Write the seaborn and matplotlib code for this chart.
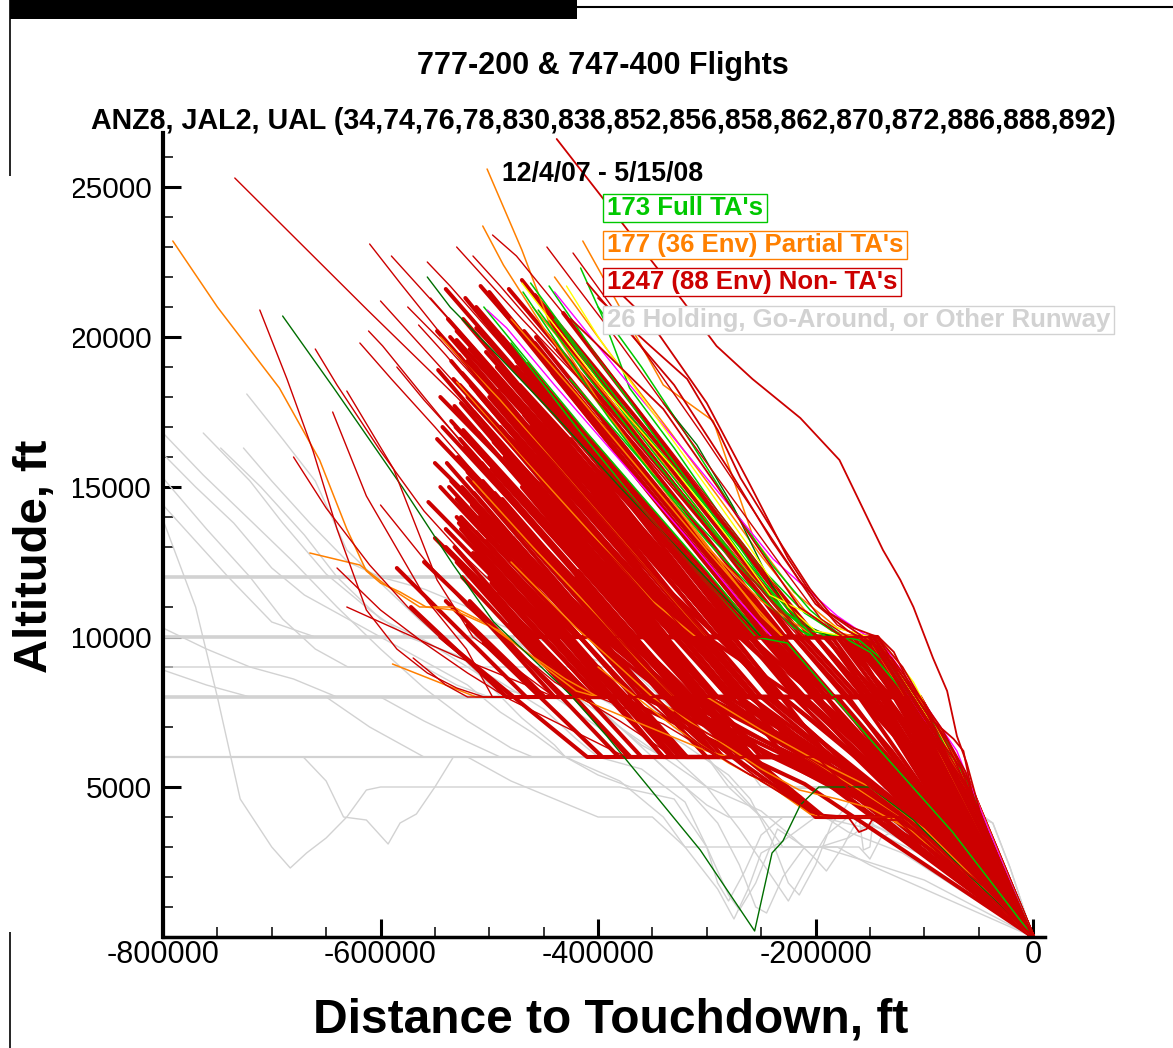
import pandas as pd
import matplotlib
matplotlib.use("Agg")
import matplotlib.pyplot as plt
import seaborn as sns
from matplotlib.patches import Rectangle
from matplotlib.lines import Line2D
from matplotlib.ticker import MultipleLocator, FixedLocator, FuncFormatter

# ---------------------------------------------------------------------------
# Arrival tracks: distance to touchdown (kft, negative = before threshold)
# and altitude (kft).  Every track ends at touchdown.
# ---------------------------------------------------------------------------
TOUCHDOWN = (0.0, 0.0)

# Non-TA flights that level off at one altitude:
# (start dist, start alt, level-on dist, level alt, level-off dist, final fix dist, final fix alt)
red_lvl10 = [
    (-538, 20.6, -280, 10, -145, -100, 7.0), (-530, 19.9, -282, 10, -150, -88, 6.2),
    (-535, 19.2, -321, 10, -147, -110, 7.4), (-527, 18.4, -312, 10, -152, -85, 5.6),
    (-532, 17.7, -344, 10, -146, -98, 6.6), (-524, 16.9, -351, 10, -149, -92, 5.9),
    (-529, 16.0, -371, 10, -154, -83, 5.2), (-520, 15.3, -394, 10, -148, -104, 7.0),
    (-516, 14.4, -406, 10, -151, -87, 5.5), (-512, 13.5, -427, 10, -146, -95, 6.3),
    (-505, 12.7, -436, 10, -150, -80, 4.9), (-498, 11.8, -453, 10, -147, -97, 6.0),
    (-490, 11.0, -464, 10, -153, -89, 5.4), (-522, 21.3, -265, 10, -144, -115, 7.9),
    (-508, 21.7, -229, 10, -145, -93, 6.8), (-495, 21.2, -246, 10, -147, -86, 5.8),
    (-482, 21.6, -212, 10, -143, -106, 7.5), (-470, 21.9, -211, 10, -144, -100, 7.3),
    (-458, 21.4, -199, 10, -146, -92, 6.6), (-545, 18.0, -329, 10, -150, -87, 5.7),
    (-550, 15.8, -389, 10, -155, -82, 5.0), (-503, 19.5, -271, 10, -148, -94, 6.4),
    (-488, 18.3, -290, 10, -145, -90, 6.1), (-476, 17.2, -309, 10, -149, -96, 6.7),
    (-466, 15.9, -326, 10, -152, -88, 5.6), (-480, 14.1, -378, 10, -147, -85, 5.3),
    (-470, 12.9, -396, 10, -150, -93, 6.2), (-445, 20.5, -222, 10, -144, -97, 7.0),
    (-437, 19.6, -228, 10, -146, -91, 6.4), (-540, 13.0, -457, 10, -151, -86, 5.4),
    (-512, 20.3, -254, 10, -146, -90, 6.2), (-496, 16.5, -337, 10, -148, -95, 6.5),
    (-460, 18.6, -269, 10, -145, -88, 6.0), (-450, 17.0, -291, 10, -150, -92, 6.3),
    (-525, 18.8, -310, 10, -260, -150, 6.4), (-515, 16.4, -360, 10, -300, -170, 6.8),
    (-505, 20.6, -255, 10, -220, -130, 6.2), (-495, 14.8, -380, 10, -240, -140, 6.0),
    (-485, 20.8, -232, 10, -200, -120, 6.4), (-475, 16.3, -330, 10, -180, -118, 7.0),
    (-465, 19.1, -262, 10, -165, -112, 7.2), (-455, 13.6, -372, 10, -230, -140, 6.2),
    (-520, 12.2, -465, 10, -190, -105, 5.8), (-540, 21.6, -262, 10, -175, -110, 6.8),
    (-530, 14.6, -418, 10, -270, -150, 6.0), (-510, 18.1, -318, 10, -210, -125, 6.6),
    (-548, 20.2, -300, 10, -160, -105, 6.9), (-543, 17.0, -365, 10, -200, -120, 6.5),
    (-537, 15.0, -410, 10, -148, -96, 6.6), (-526, 13.6, -438, 10, -156, -90, 5.9),
    (-518, 19.6, -283, 10, -150, -98, 6.9), (-514, 17.5, -330, 10, -185, -110, 6.3),
    (-507, 15.8, -368, 10, -152, -94, 6.4), (-501, 13.9, -408, 10, -170, -100, 5.9),
    (-493, 19.0, -280, 10, -147, -85, 5.9), (-486, 16.0, -342, 10, -160, -102, 6.4),
    (-478, 13.3, -398, 10, -145, -89, 6.1), (-468, 20.2, -236, 10, -148, -95, 6.6),
    (-461, 17.8, -282, 10, -190, -115, 6.4), (-452, 15.2, -336, 10, -150, -90, 6.2),
    (-443, 18.0, -265, 10, -146, -100, 7.1), (-432, 20.8, -205, 10, -145, -94, 7.0),
    (-425, 16.6, -280, 10, -155, -97, 6.5), (-415, 19.0, -220, 10, -150, -92, 6.6),
    (-405, 14.8, -300, 10, -170, -105, 6.3), (-395, 17.2, -235, 10, -160, -100, 6.6),
]
red_lvl8 = [
    (-536, 20.0, -250, 8, -106, -60, 5.0), (-528, 19.4, -269, 8, -110, -75, 4.6),
    (-533, 18.6, -268, 8, -104, -62, 5.2), (-526, 17.8, -293, 8, -112, -80, 3.9),
    (-531, 17.0, -300, 8, -108, -85, 5.6), (-523, 16.3, -321, 8, -115, -66, 3.6),
    (-519, 15.6, -329, 8, -105, -63, 5.1), (-514, 14.8, -352, 8, -118, -90, 4.2),
    (-509, 14.0, -355, 8, -110, -59, 4.6), (-503, 13.2, -376, 8, -113, -90, 5.3),
    (-497, 12.3, -389, 8, -107, -70, 3.4), (-491, 11.5, -399, 8, -120, -72, 4.2),
    (-483, 10.7, -415, 8, -230, -110, 4.4), (-476, 10.1, -419, 8, -260, -120, 4.3),
    (-548, 16.6, -322, 8, -109, -78, 5.0), (-556, 14.5, -380, 8, -200, -100, 4.5),
    (-560, 12.5, -431, 8, -280, -130, 4.6), (-572, 11.0, -484, 8, -125, -64, 4.1),
    (-510, 20.8, -212, 8, -105, -68, 5.4), (-500, 21.5, -200, 8, -108, -82, 5.4),
    (-488, 20.0, -215, 8, -112, -56, 4.4), (-475, 19.0, -219, 8, -104, -65, 5.5),
    (-465, 17.6, -236, 8, -110, -74, 3.8), (-455, 16.1, -257, 8, -117, -60, 4.0),
    (-462, 14.3, -304, 8, -113, -88, 5.0), (-452, 12.9, -329, 8, -106, -66, 4.7),
    (-470, 15.2, -294, 8, -119, -77, 3.5), (-490, 17.0, -276, 8, -109, -62, 4.8),
    (-442, 18.8, -202, 8, -107, -70, 5.3), (-585, 12.3, -466, 8, -123, -84, 4.6),
    (-540, 11.2, -449, 8, -245, -115, 4.2), (-520, 10.4, -453, 8, -215, -105, 4.3),
    (-545, 15.0, -365, 8, -330, -160, 5.0), (-528, 13.8, -380, 8, -300, -170, 5.6),
    (-510, 16.8, -300, 8, -270, -140, 4.8), (-500, 12.0, -400, 8, -360, -200, 5.4),
    (-492, 18.2, -255, 8, -240, -130, 4.4), (-520, 19.2, -255, 8, -190, -120, 4.7),
    (-535, 17.2, -305, 8, -285, -150, 4.6), (-480, 15.8, -295, 8, -250, -135, 4.5),
    (-470, 13.6, -335, 8, -320, -180, 5.2), (-515, 11.0, -440, 8, -380, -210, 5.1),
    (-458, 19.8, -195, 8, -170, -100, 4.6), (-500, 18.0, -262, 8, -220, -110, 4.1),
    (-550, 13.3, -405, 8, -340, -175, 4.8), (-485, 14.2, -335, 8, -260, -140, 4.3),
    (-547, 18.9, -290, 8, -140, -85, 4.8), (-539, 15.8, -350, 8, -230, -120, 4.8),
    (-532, 13.0, -410, 8, -310, -160, 5.2), (-524, 20.6, -230, 8, -125, -80, 4.6),
    (-517, 18.4, -275, 8, -160, -100, 4.9), (-506, 15.2, -330, 8, -200, -115, 4.7),
    (-494, 13.6, -360, 8, -290, -150, 4.9), (-487, 11.9, -395, 8, -340, -185, 5.3),
    (-479, 18.6, -235, 8, -118, -78, 4.9), (-472, 16.9, -265, 8, -210, -120, 4.5),
    (-463, 11.5, -380, 8, -300, -160, 5.0), (-457, 20.0, -190, 8, -125, -90, 5.3),
    (-448, 15.0, -280, 8, -180, -105, 4.4), (-438, 13.8, -305, 8, -240, -135, 4.6),
    (-430, 17.5, -215, 8, -150, -95, 4.8), (-418, 12.2, -318, 8, -270, -150, 4.7),
    (-408, 15.4, -240, 8, -200, -115, 4.5), (-398, 11.0, -320, 8, -290, -160, 5.0),
]
red_lvl6 = [
    (-482, 10.4, -372, 6, -205, -112, 3.8), (-470, 11.6, -333, 6, -199, -100, 3.5),
    (-518, 11.2, -381, 6, -210, -116, 3.9), (-440, 12.5, -285, 6, -202, -96, 3.3),
    (-505, 9.8, -396, 6, -220, -120, 3.8), (-455, 14.5, -257, 6, -200, -92, 3.5),
    (-498, 15.6, -258, 6, -206, -106, 3.7), (-530, 14.0, -325, 6, -213, -110, 3.6),
    (-462, 17.0, -212, 6, -201, -98, 3.6), (-545, 10.0, -410, 6, -225, -118, 3.7),
    (-490, 13.0, -319, 6, -208, -104, 3.4), (-475, 19.2, -188, 6, -188, -110, 3.7),
    (-500, 11.5, -360, 6, -230, -120, 3.9), (-512, 12.8, -340, 6, -215, -115, 3.6),
    (-485, 14.0, -290, 6, -205, -100, 3.4), (-525, 12.0, -370, 6, -240, -125, 4.0),
    (-470, 15.0, -262, 6, -210, -108, 3.5), (-450, 16.2, -228, 6, -200, -95, 3.3),
    (-535, 15.2, -300, 6, -222, -118, 3.8), (-527, 16.6, -268, 6, -218, -115, 3.8),
    (-508, 13.7, -318, 6, -225, -120, 3.9), (-480, 12.0, -340, 6, -212, -110, 3.6),
    (-460, 13.4, -290, 6, -204, -102, 3.5), (-445, 10.8, -330, 6, -215, -112, 3.7),
    (-420, 12.0, -275, 6, -200, -95, 3.4), (-400, 9.0, -320, 6, -230, -125, 3.9),
]
red_lvl4 = [
    (-420, 11.0, -194, 4, -124, -72, 2.6), (-390, 9.6, -197, 4, -128, -76, 2.5),
    (-360, 8.2, -198, 4, -122, -70, 2.4), (-470, 12.2, -197, 4, -130, -80, 2.7),
    (-440, 12.5, -200, 4, -150, -85, 2.8), (-410, 10.5, -192, 4, -126, -74, 2.5),
]

# Non-TA flights with two level segments
red_step_tracks = [
    [(-520, 18.0), (-320, 10.0), (-235, 10.0), (-185, 8.0), (-110, 8.0), (-58, 5.0)],
    [(-505, 16.0), (-355, 10.0), (-220, 10.0), (-170, 8.0), (-106, 8.0), (-60, 5.2)],
    [(-530, 20.2), (-275, 10.0), (-210, 10.0), (-160, 8.0), (-112, 8.0), (-55, 4.6)],
    [(-490, 13.4), (-405, 10.0), (-200, 10.0), (-150, 8.0), (-104, 8.0), (-62, 5.4)],
    [(-478, 19.6), (-260, 10.0), (-192, 10.0), (-140, 8.0), (-115, 8.0), (-57, 4.8)],
    [(-512, 21.0), (-250, 10.0), (-180, 10.0), (-130, 8.0), (-108, 8.0), (-59, 5.0)],
    [(-500, 14.6), (-385, 10.0), (-245, 10.0), (-195, 8.0), (-118, 8.0), (-54, 4.5)],
    [(-468, 17.4), (-300, 10.0), (-170, 10.0), (-125, 8.0), (-110, 8.0), (-61, 5.3)],
    [(-525, 15.0), (-400, 10.0), (-260, 10.0), (-160, 6.0), (-140, 5.4), (-100, 3.9)],
    [(-515, 12.8), (-395, 8.0), (-300, 8.0), (-250, 6.0), (-200, 6.0), (-105, 3.6)],
    [(-540, 13.6), (-390, 8.0), (-320, 8.0), (-270, 6.0), (-203, 6.0), (-112, 3.7)],
    [(-496, 15.2), (-365, 10.0), (-215, 10.0), (-165, 8.0), (-113, 8.0), (-58, 4.9)],
    [(-508, 17.6), (-330, 10.0), (-290, 10.0), (-235, 8.0), (-150, 8.0), (-80, 4.0)],
    [(-486, 16.8), (-290, 10.0), (-250, 10.0), (-200, 7.9), (-160, 6.4), (-90, 3.6)],
    [(-472, 18.4), (-260, 10.0), (-240, 10.0), (-180, 7.2), (-130, 5.4), (-70, 2.8)],
    [(-526, 14.0), (-420, 10.0), (-330, 10.0), (-280, 8.0), (-180, 8.0), (-100, 4.6)],
    [(-520, 15.5), (-340, 8.0), (-300, 8.0), (-245, 6.0), (-205, 6.0), (-110, 3.6)],
    [(-505, 17.0), (-300, 8.0), (-270, 8.0), (-220, 6.2), (-150, 4.6), (-80, 2.6)],
    [(-495, 11.8), (-400, 8.0), (-380, 8.0), (-320, 6.0), (-210, 6.0), (-115, 3.7)],
    [(-530, 12.5), (-420, 8.0), (-350, 8.0), (-290, 6.0), (-208, 6.0), (-108, 3.5)],
    [(-488, 14.6), (-330, 8.0), (-280, 7.6), (-230, 6.4), (-160, 5.0), (-95, 3.5)],
]

# Non-TA flights on the edges of the corridor
red_edge_tracks = [
    [(-438, 26.6), (-322, 21.2), (-291, 19.7), (-258, 18.6), (-214, 17.3), (-178, 15.9),
     (-138, 12.9), (-122, 11.9), (-110, 11.0), (-92, 9.3), (-79, 8.2), (-70, 6.7),
     (-61, 5.8), (-49, 4.2), (-30, 2.4)],
    [(-400, 21.3), (-355, 19.8), (-318, 18.6), (-290, 16.9), (-269, 15.3), (-230, 13.0),
     (-205, 11.6), (-187, 10.8), (-165, 10.3), (-143, 10.0), (-120, 9.0), (-104, 8.0),
     (-92, 7.2), (-73, 6.6), (-64, 6.2), (-55, 4.6), (-49, 4.0), (-30, 2.4)],
    [(-410, 21.8), (-330, 18.4), (-280, 15.6), (-240, 13.2), (-200, 11.1), (-170, 10.2),
     (-140, 9.6), (-118, 8.6), (-98, 7.5), (-78, 6.5), (-60, 5.2), (-45, 3.6)],
    [(-425, 20.6), (-340, 17.6), (-290, 15.0), (-255, 13.1), (-215, 11.0), (-175, 10.0),
     (-150, 9.2), (-118, 7.8), (-90, 6.8), (-66, 5.6), (-50, 4.0)],
    [(-395, 22.0), (-352, 20.5), (-300, 17.8), (-262, 15.2), (-225, 12.6), (-196, 11.0),
     (-160, 10.1), (-130, 9.3), (-112, 8.4), (-85, 7.0), (-62, 5.5), (-42, 3.2)],
    [(-430, 11.0), (-330, 7.4), (-260, 6.0), (-199, 6.0), (-160, 4.6), (-122, 3.9),
     (-92, 3.2), (-73, 2.5), (-46, 1.7), (-24, 0.9)],
    [(-330, 7.5), (-250, 5.2), (-200, 4.1), (-170, 4.0), (-160, 3.5), (-153, 3.6),
     (-148, 3.9), (-125, 3.9), (-100, 3.1), (-60, 2.0)],
    [(-360, 8.0), (-306, 6.4), (-260, 5.4), (-214, 4.7), (-196, 4.0), (-122, 4.0),
     (-95, 3.1), (-60, 2.0)],
    [(-142, 10.0), (-128, 9.5), (-112, 8.3), (-100, 7.8), (-88, 7.0), (-76, 6.2),
     (-66, 5.4), (-55, 4.4), (-40, 3.2), (-20, 1.6)],
    [(-180, 6.0), (-150, 5.0), (-125, 4.4), (-100, 3.7), (-80, 3.0), (-60, 2.3),
     (-35, 1.3)],
]

# Non-TA flights first seen far out
red_outer_tracks = [
    [(-734, 25.3), (-612, 20.9), (-530, 18.0), (-450, 15.0), (-380, 12.4), (-322, 10.0),
     (-150, 10.0), (-95, 7.0)],
    [(-711, 20.9), (-686, 18.6), (-662, 16.2), (-640, 13.6), (-613, 10.9), (-585, 9.6),
     (-557, 8.8), (-530, 8.3), (-505, 8.0), (-120, 8.0), (-60, 5.0)],
    [(-660, 19.6), (-640, 18.4), (-600, 16.2), (-560, 14.2), (-520, 12.6), (-480, 11.2),
     (-440, 10.0), (-151, 10.0), (-90, 6.5)],
    [(-610, 23.1), (-582, 21.8), (-540, 19.9), (-500, 18.2), (-440, 15.8), (-380, 13.3),
     (-300, 10.0), (-148, 10.0), (-92, 6.9)],
    [(-590, 22.7), (-555, 21.3), (-510, 19.5), (-460, 17.4), (-400, 14.8), (-330, 12.0),
     (-275, 10.0), (-146, 10.0), (-96, 7.2)],
    [(-557, 22.5), (-536, 21.7), (-490, 19.8), (-430, 17.3), (-370, 14.7), (-300, 11.8),
     (-230, 8.9), (-200, 8.0), (-110, 8.0), (-58, 4.9)],
    [(-611, 20.2), (-598, 19.7), (-560, 18.0), (-510, 15.8), (-450, 13.3), (-390, 10.8),
     (-350, 9.4), (-310, 8.0), (-115, 8.0), (-57, 4.8)],
    [(-619, 19.8), (-590, 18.6), (-550, 17.0), (-500, 14.9), (-440, 12.4), (-380, 9.9),
     (-330, 8.0), (-116, 8.0), (-55, 4.6)],
    [(-554, 21.3), (-520, 19.9), (-470, 17.8), (-410, 15.3), (-350, 12.8), (-290, 10.2),
     (-285, 10.0), (-150, 10.0), (-90, 6.6)],
    [(-497, 23.4), (-475, 22.7), (-430, 20.7), (-380, 18.4), (-320, 15.6), (-260, 12.8),
     (-215, 10.6), (-200, 10.0), (-145, 10.0), (-93, 7.0)],
    [(-447, 23.0), (-420, 21.7), (-380, 19.8), (-330, 17.3), (-280, 14.8), (-230, 12.3),
     (-195, 10.6), (-170, 10.0), (-144, 10.0), (-95, 7.3)],
    [(-423, 22.8), (-395, 21.4), (-355, 19.4), (-305, 16.8), (-255, 14.1), (-215, 11.9),
     (-180, 10.4), (-160, 10.0), (-143, 10.0), (-97, 7.4)],
    [(-515, 22.7), (-490, 21.7), (-440, 19.6), (-380, 17.0), (-320, 14.5), (-260, 12.0),
     (-210, 10.0), (-147, 10.0), (-91, 6.8)],
    [(-631, 18.2), (-588, 15.6), (-548, 11.9), (-515, 10.0), (-470, 8.8), (-440, 8.0),
     (-118, 8.0), (-60, 4.8)],
    [(-644, 17.5), (-613, 14.7), (-557, 11.2), (-521, 9.6), (-497, 8.0), (-120, 8.0),
     (-62, 4.9)],
    [(-631, 11.0), (-527, 9.3), (-466, 8.4), (-440, 8.0), (-119, 8.0), (-58, 4.6)],
    [(-570, 9.3), (-540, 8.4), (-520, 8.0), (-400, 8.0), (-340, 7.1), (-290, 6.0),
     (-215, 6.0), (-110, 3.6)],
    [(-600, 14.4), (-560, 12.6), (-520, 11.0), (-480, 9.7), (-440, 8.5), (-380, 7.2),
     (-330, 6.0), (-210, 6.0), (-115, 3.8)],
    [(-640, 12.3), (-600, 10.9), (-560, 9.8), (-520, 8.8), (-480, 7.9), (-430, 7.0),
     (-380, 6.1), (-370, 6.0), (-215, 6.0), (-118, 3.8)],
    [(-530, 23.0), (-505, 22.0), (-470, 20.6), (-420, 18.7), (-360, 16.2), (-300, 13.6),
     (-250, 11.4), (-215, 10.0), (-146, 10.0), (-94, 7.1)],
    [(-575, 21.0), (-545, 19.9), (-505, 18.3), (-450, 16.0), (-390, 13.6), (-330, 11.0),
     (-305, 10.0), (-150, 10.0), (-89, 6.5)],
    [(-680, 16.0), (-650, 14.3), (-610, 12.4), (-575, 11.0), (-540, 9.8), (-500, 8.6),
     (-480, 8.0), (-118, 8.0), (-60, 4.9)],
    [(-600, 21.2), (-570, 20.0), (-535, 18.6), (-495, 17.0), (-440, 14.7), (-380, 12.2),
     (-330, 10.0), (-152, 10.0), (-92, 6.6)],
    [(-585, 19.0), (-560, 17.9), (-520, 16.3), (-470, 14.2), (-420, 12.1), (-370, 10.0),
     (-149, 10.0), (-86, 6.0)],
    [(-565, 20.4), (-540, 19.4), (-500, 17.7), (-455, 15.8), (-400, 13.5), (-345, 11.2),
     (-315, 10.0), (-147, 10.0), (-90, 6.3)],
]

# Partial tailored arrivals
orange_tracks = [
    [(-791, 23.2), (-750, 21.0), (-693, 18.3), (-656, 15.9), (-631, 13.6), (-613, 12.2),
     (-600, 11.8), (-582, 11.5), (-558, 11.0), (-533, 10.9), (-490, 10.2), (-460, 9.3),
     (-420, 8.2), (-400, 8.0), (-110, 8.0), (-60, 5.0)],
    [(-502, 25.6), (-470, 22.9), (-444, 20.4), (-400, 17.9), (-350, 15.4), (-300, 13.0),
     (-250, 11.2), (-200, 10.0), (-146, 10.0), (-94, 7.0)],
    [(-414, 23.2), (-340, 18.4), (-294, 17.2), (-276, 15.3), (-257, 13.3), (-220, 11.5),
     (-180, 10.3), (-150, 10.0), (-105, 8.0), (-60, 5.3)],
    [(-665, 12.8), (-619, 12.4), (-594, 11.7), (-564, 11.0), (-533, 11.0), (-500, 10.4),
     (-470, 9.6), (-430, 8.6), (-400, 8.0), (-115, 8.0), (-58, 4.7)],
    [(-506, 23.7), (-487, 22.4), (-450, 20.3), (-400, 17.8), (-340, 15.0), (-290, 12.6),
     (-250, 10.7), (-230, 10.0), (-150, 10.0), (-92, 7.0)],
    [(-589, 9.1), (-512, 8.0), (-420, 8.0), (-360, 7.1), (-300, 6.2), (-280, 6.0),
     (-210, 6.0), (-160, 4.9), (-115, 3.8)],
    [(-530, 18.5), (-470, 16.0), (-410, 13.6), (-350, 11.2), (-310, 10.0), (-152, 10.0),
     (-88, 6.3)],
    [(-480, 20.6), (-420, 18.1), (-360, 15.5), (-300, 12.9), (-250, 10.8), (-230, 10.0),
     (-148, 10.0), (-95, 7.1)],
    [(-515, 15.2), (-460, 13.0), (-400, 10.7), (-360, 9.1), (-330, 8.0), (-112, 8.0),
     (-55, 4.6)],
    [(-460, 21.0), (-400, 18.4), (-340, 15.8), (-290, 13.4), (-240, 11.2), (-210, 10.0),
     (-145, 10.0), (-100, 7.6)],
    [(-400, 9.0), (-330, 7.0), (-280, 5.8), (-240, 5.0), (-205, 4.1), (-190, 4.0),
     (-130, 4.0), (-90, 2.9), (-50, 1.7)],
    [(-350, 8.0), (-300, 6.8), (-250, 5.6), (-215, 4.9), (-180, 4.6), (-150, 4.3),
     (-110, 3.5), (-70, 2.3)],
    [(-545, 20.0), (-490, 17.9), (-430, 15.4), (-370, 12.9), (-320, 10.8), (-300, 10.0),
     (-149, 10.0), (-91, 6.7)],
    [(-440, 22.0), (-390, 19.5), (-335, 16.9), (-290, 14.7), (-250, 12.7), (-210, 10.9),
     (-185, 10.2), (-150, 9.9), (-118, 8.6), (-80, 6.7), (-50, 4.3)],
    [(-480, 12.5), (-420, 10.3), (-380, 9.0), (-350, 8.0), (-300, 8.0), (-250, 6.9),
     (-200, 5.9), (-150, 5.0), (-100, 3.6)],
]

# Full tailored arrivals
green_tracks = [
    [(-469, 21.5), (-430, 19.4), (-390, 17.3), (-350, 15.4), (-300, 13.2), (-250, 11.3),
     (-220, 10.3), (-200, 10.0), (-150, 10.0), (-95, 7.0)],
    [(-462, 21.8), (-420, 19.7), (-371, 17.4), (-320, 15.2), (-270, 13.0), (-227, 10.8),
     (-190, 10.0), (-146, 10.0), (-90, 6.7)],
    [(-416, 22.3), (-395, 20.6), (-371, 18.3), (-330, 16.3), (-290, 14.2), (-250, 12.3),
     (-210, 10.8), (-180, 10.1), (-150, 9.5), (-120, 8.2), (-100, 7.6), (-70, 6.0)],
    [(-440, 20.6), (-400, 18.6), (-350, 16.2), (-300, 13.9), (-260, 12.0), (-226, 10.8),
     (-200, 10.0), (-147, 10.0), (-92, 6.9)],
    [(-426, 18.6), (-380, 16.7), (-330, 14.6), (-280, 12.7), (-227, 10.8), (-200, 10.0),
     (-145, 10.0), (-97, 7.2)],
    [(-480, 19.8), (-420, 17.0), (-360, 14.3), (-300, 11.8), (-255, 10.0), (-226, 9.8),
     (-150, 6.6), (-74, 3.5), (-40, 1.9)],
    [(-455, 20.9), (-410, 18.7), (-360, 16.4), (-310, 14.2), (-260, 12.0), (-220, 10.4),
     (-205, 10.0), (-146, 10.0), (-110, 8.0), (-60, 5.2)],
    [(-400, 21.0), (-360, 19.0), (-320, 16.8), (-280, 14.5), (-240, 12.4), (-205, 10.9),
     (-175, 10.0), (-145, 10.0), (-94, 7.1)],
    [(-505, 21.0), (-460, 19.0), (-410, 16.8), (-355, 14.5), (-300, 12.2), (-250, 10.0),
     (-150, 10.0), (-91, 6.8)],
    [(-445, 21.7), (-400, 19.3), (-350, 16.8), (-305, 14.6), (-265, 12.6), (-235, 11.3),
     (-205, 10.2), (-160, 9.9), (-130, 9.0), (-110, 8.0), (-62, 5.3)],
]
darkgreen_tracks = [
    [(-690, 20.7), (-643, 18.3), (-580, 15.0), (-533, 12.4), (-496, 10.5), (-426, 8.1),
     (-392, 6.7), (-306, 2.9), (-256, 0.2), (-240, 2.8), (-230, 3.2), (-214, 4.4),
     (-197, 5.0), (-150, 5.0), (-110, 3.9), (-60, 2.1)],
    [(-557, 22.0), (-536, 21.0), (-490, 19.3), (-440, 17.4), (-380, 15.0), (-320, 12.7),
     (-270, 10.8), (-250, 10.0), (-150, 10.0), (-92, 6.8)],
    [(-340, 17.8), (-309, 16.4), (-275, 14.3), (-240, 11.7), (-210, 10.4), (-185, 10.0),
     (-147, 10.0), (-100, 7.6)],
]
magenta_tracks = [
    [(-440, 21.5), (-380, 18.8), (-325, 16.4), (-239, 12.6), (-180, 10.7), (-135, 9.6),
     (-104, 8.0), (-70, 6.2), (-40, 3.5)],
    [(-502, 20.9), (-484, 20.3), (-440, 18.4), (-380, 15.9), (-320, 13.4), (-270, 11.2),
     (-240, 10.0), (-150, 10.0), (-92, 6.8)],
]
yellow_tracks = [
    [(-470, 21.8), (-400, 18.5), (-330, 15.6), (-280, 13.3), (-242, 11.4), (-180, 10.3),
     (-140, 9.9), (-110, 8.5), (-60, 5.0)],
    [(-429, 21.7), (-398, 19.9), (-350, 17.5), (-300, 15.0), (-255, 12.7), (-225, 11.0),
     (-200, 10.2), (-170, 10.0), (-145, 10.0), (-95, 7.2)],
]

# Holding, go-around and other-runway flights
gray_tracks = [
    [(-800, 12.0), (-462, 12.0), (-430, 11.0), (-400, 10.0), (-360, 8.6), (-320, 7.2),
     (-290, 6.0), (-200, 6.0), (-150, 5.0), (-100, 3.6), (-50, 1.8)],
    [(-800, 10.0), (-480, 10.0), (-440, 8.8), (-400, 7.6), (-360, 6.4), (-340, 6.0),
     (-240, 6.0), (-180, 5.0), (-143, 5.0), (-90, 4.6), (-60, 4.4), (-37, 3.8), (-21, 2.3)],
    [(-800, 9.0), (-360, 9.0), (-330, 7.9), (-300, 6.9), (-270, 6.0), (-250, 5.0),
     (-143, 5.0), (-110, 4.0), (-60, 2.1)],
    [(-800, 8.0), (-440, 8.0), (-400, 7.0), (-370, 6.0), (-300, 6.0), (-250, 4.0),
     (-122, 4.0), (-80, 2.8), (-40, 1.4)],
    [(-800, 16.8), (-763, 15.4), (-720, 13.9), (-680, 12.5), (-640, 11.0), (-600, 9.6),
     (-560, 8.3), (-520, 7.2), (-480, 6.3), (-460, 6.0), (-300, 6.0), (-280, 5.0),
     (-250, 4.0), (-230, 3.0), (-196, 3.0), (-160, 2.6), (-100, 1.9)],
    [(-763, 16.8), (-720, 15.2), (-690, 13.8), (-650, 12.1), (-610, 10.9), (-575, 10.0),
     (-530, 9.4), (-490, 8.5), (-450, 7.6), (-420, 6.6), (-400, 6.0), (-330, 6.0),
     (-300, 5.0), (-270, 3.6), (-240, 2.0), (-225, 1.2), (-210, 2.2), (-190, 3.4),
     (-170, 4.0), (-140, 3.6), (-100, 2.8)],
    [(-723, 18.1), (-690, 16.6), (-660, 15.2), (-631, 12.9), (-600, 11.8), (-565, 10.6),
     (-530, 9.5), (-500, 8.4), (-470, 7.3), (-440, 6.4), (-430, 6.0), (-350, 6.0),
     (-320, 5.0), (-290, 3.8), (-270, 2.4), (-255, 1.0), (-245, 0.8), (-230, 2.0),
     (-210, 3.0), (-160, 3.0), (-150, 2.6), (-140, 3.3), (-120, 3.7), (-80, 2.6)],
    [(-802, 14.1), (-770, 11.0), (-750, 8.0), (-729, 4.6), (-700, 3.0), (-683, 2.3),
     (-668, 2.8), (-650, 3.3), (-631, 4.0), (-613, 4.9), (-600, 5.0), (-380, 5.0),
     (-330, 4.6), (-300, 3.0), (-280, 1.4), (-270, 0.9), (-255, 1.8), (-235, 3.6),
     (-210, 3.0), (-180, 3.0), (-150, 2.4), (-100, 1.6)],
    [(-800, 6.0), (-671, 6.0), (-650, 5.2), (-634, 4.0), (-613, 3.9), (-593, 3.1),
     (-582, 3.8), (-567, 4.1), (-550, 5.0), (-533, 6.0), (-400, 6.0), (-360, 5.6),
     (-320, 4.5), (-300, 3.0), (-290, 1.8), (-280, 1.2), (-265, 2.2), (-250, 3.4),
     (-230, 4.0), (-160, 4.0), (-156, 2.9), (-150, 3.0), (-147, 3.9), (-120, 3.4),
     (-60, 1.6)],
    [(-800, 15.3), (-760, 13.6), (-720, 12.0), (-690, 10.6), (-660, 9.6), (-630, 9.0),
     (-560, 9.0), (-530, 8.4), (-500, 8.0), (-420, 8.0), (-380, 7.0), (-340, 6.0),
     (-300, 5.0), (-143, 5.0), (-100, 4.1), (-50, 2.0)],
    [(-800, 14.4), (-770, 13.2), (-740, 12.0), (-700, 10.5), (-660, 10.0), (-600, 10.0),
     (-560, 9.2), (-520, 8.4), (-490, 7.5), (-460, 6.8), (-430, 6.0), (-380, 5.2),
     (-340, 4.0), (-320, 3.0), (-196, 3.0), (-170, 3.3), (-150, 3.8), (-110, 3.1)],
    [(-747, 16.3), (-710, 15.0), (-670, 13.4), (-640, 12.0), (-600, 10.6), (-560, 9.9),
     (-520, 9.0), (-490, 8.3), (-460, 8.0), (-400, 8.0), (-360, 7.2), (-320, 6.4),
     (-280, 5.4), (-260, 4.6), (-240, 3.2), (-225, 1.8), (-215, 1.4), (-200, 2.4),
     (-185, 3.8), (-175, 4.2), (-160, 5.0), (-140, 4.8), (-90, 3.0)],
    [(-726, 16.3), (-700, 15.2), (-665, 13.8), (-630, 12.5), (-600, 12.0), (-560, 11.6),
     (-520, 11.0), (-490, 10.4), (-460, 10.0), (-400, 9.2), (-360, 8.0), (-330, 7.0),
     (-300, 6.0), (-260, 6.0), (-230, 5.0), (-200, 4.2), (-170, 3.5), (-120, 2.8),
     (-60, 1.4)],
    [(-800, 10.3), (-760, 9.6), (-720, 9.0), (-680, 8.6), (-640, 8.0), (-600, 8.0),
     (-560, 7.2), (-520, 6.5), (-490, 6.0), (-430, 6.0), (-400, 5.4), (-370, 5.0),
     (-300, 5.0), (-250, 4.2), (-220, 3.3), (-200, 2.6), (-190, 2.2), (-175, 3.0),
     (-160, 4.0), (-135, 4.0), (-100, 3.0), (-50, 1.5)],
    [(-800, 8.9), (-760, 8.4), (-720, 8.0), (-650, 8.0), (-610, 7.0), (-580, 6.4),
     (-560, 6.0), (-520, 6.0), (-480, 5.2), (-440, 4.6), (-400, 4.0), (-350, 4.0),
     (-320, 3.0), (-290, 1.6), (-275, 0.6), (-262, 1.6), (-250, 2.8), (-230, 3.2),
     (-200, 4.0), (-150, 4.0), (-123, 4.9), (-100, 4.6), (-70, 4.3), (-50, 4.0),
     (-37, 3.8), (-21, 2.3)],
    [(-800, 16.1), (-770, 15.0), (-735, 13.8), (-700, 12.3), (-670, 11.4), (-640, 10.8),
     (-610, 10.2), (-600, 10.0), (-480, 10.0), (-440, 9.0), (-410, 8.0), (-380, 7.0),
     (-350, 6.0), (-320, 5.0), (-300, 4.4), (-280, 4.0), (-196, 4.0), (-150, 3.6),
     (-100, 2.7)],
]
# Repeated holding legs: (from dist, to dist, altitude, line width)
gray_holds = [
    (-800, -462, 12.0, 2.6), (-800, -478, 10.0, 2.6), (-800, -430, 8.0, 2.6),
    (-800, -400, 6.0, 1.6), (-235, -143, 5.0, 2.2),
]

# Colours
C_RED, C_ORANGE, C_GREEN = "#cc0000", "#ff8000", "#00c800"
C_DKGREEN, C_GRAY, C_MAGENTA, C_YELLOW = "#006e00", "#d2d2d2", "#ff00ff", "#ffff00"

# Text
TITLE_1 = "777-200 & 747-400 Flights"
TITLE_2 = "ANZ8, JAL2, UAL (34,74,76,78,830,838,852,856,858,862,870,872,886,888,892)"
DATE_RANGE = "12/4/07 - 5/15/08"
LEGEND_ITEMS = [
    ("173 Full TA's", C_GREEN),
    ("177 (36 Env) Partial TA's", C_ORANGE),
    ("1247 (88 Env) Non- TA's", C_RED),
    ("26 Holding, Go-Around, or Other Runway", C_GRAY),
]


def level_track(x0, h0, x1, hl, x2, x3, h3):
    return [(x0, h0), (x1, hl), (x2, hl), (x3, h3)]


def to_frame(tracks, group, to_ground=True):
    rows = []
    for i, tr in enumerate(tracks):
        pts = list(tr) + ([TOUCHDOWN] if to_ground else [])
        for j, (d, a) in enumerate(pts):
            rows.append((f"{group}-{i}", j, d * 1000.0, a * 1000.0))
    return pd.DataFrame(rows, columns=["flight", "seq", "dist", "alt"])


sns.set_theme(style="ticks")
plt.rcParams["font.family"] = ["Liberation Sans", "DejaVu Sans"]
plt.rcParams["axes.unicode_minus"] = False

W, H = 1173, 1048
fig = plt.figure(figsize=(W / 100, H / 100), dpi=100)
fig.patch.set_facecolor("white")
ax = fig.add_axes([163 / W, 1 - 937 / H, 882 / W, 804 / H])
ax.set_facecolor("white")


def draw(tracks, group, color, lw, to_ground=True):
    df = to_frame(tracks, group, to_ground)
    sns.lineplot(data=df, x="dist", y="alt", units="flight", estimator=None,
                 sort=False, color=color, linewidth=lw, ax=ax, legend=False)


red_core = ([level_track(*t) for t in red_lvl10] + [level_track(*t) for t in red_lvl8]
            + [level_track(*t) for t in red_lvl6] + [level_track(*t) for t in red_lvl4])

draw(gray_tracks, "gray", C_GRAY, 1.0)
for k, (a, b, h, w) in enumerate(gray_holds):
    draw([[(a, h), (b, h)]], f"hold{k}", C_GRAY, w, to_ground=False)
draw(red_core, "red", C_RED, 2.9)
draw(red_step_tracks, "redstep", C_RED, 2.9)
draw(orange_tracks, "orange", C_ORANGE, 1.1)
draw(green_tracks, "green", C_GREEN, 1.1)
draw(darkgreen_tracks, "dkgreen", C_DKGREEN, 1.0)
draw(magenta_tracks, "magenta", C_MAGENTA, 1.0)
draw(yellow_tracks, "yellow", C_YELLOW, 1.0)
draw(red_edge_tracks, "rededge", C_RED, 1.3)
draw(red_outer_tracks, "redouter", C_RED, 1.0)

# Axes styling
ax.set_xlim(-800000, 11000)
ax.set_ylim(0, 26800)
ax.set_xlabel("")
ax.set_ylabel("")
ax.xaxis.set_major_locator(MultipleLocator(200000))
ax.xaxis.set_minor_locator(MultipleLocator(50000))
ax.yaxis.set_major_locator(FixedLocator([5000, 10000, 15000, 20000, 25000]))
ax.yaxis.set_minor_locator(MultipleLocator(1000))
int_fmt = FuncFormatter(lambda v, p: f"{int(round(v))}")
ax.xaxis.set_major_formatter(int_fmt)
ax.yaxis.set_major_formatter(int_fmt)
for side in ("top", "right"):
    ax.spines[side].set_visible(False)
ax.spines["left"].set_linewidth(3.0)
ax.spines["bottom"].set_linewidth(2.5)
ax.spines["left"].set_color("black")
ax.spines["bottom"].set_color("black")
ax.tick_params(which="major", direction="in", length=13, width=2.2, color="black",
               labelcolor="black")
ax.tick_params(which="minor", direction="in", length=7.5, width=1.1, color="black")
ax.tick_params(axis="x", which="major", labelsize=22, pad=2.5)
ax.tick_params(axis="y", which="major", labelsize=21.5, pad=8)

# Slide frame remnants
fig.add_artist(Line2D([10 / W, 10 / W], [0, 1], transform=fig.transFigure,
                      color="black", lw=1.2, zorder=2))
fig.add_artist(Line2D([577 / W, 1.0], [1 - 7 / H, 1 - 7 / H], transform=fig.transFigure,
                      color="black", lw=1.5, zorder=2))
fig.add_artist(Rectangle((10 / W, 1 - 19 / H), 567 / W, 19 / H, transform=fig.transFigure,
                         facecolor="black", edgecolor="none", zorder=2))
fig.add_artist(Rectangle((0, 1 - 932 / H), 73 / W, (932 - 176) / H,
                         transform=fig.transFigure, facecolor="white",
                         edgecolor="none", zorder=3))

# Titles and axis labels
fig.text(603 / W, 1 - 66 / H, TITLE_1, ha="center", va="center", fontsize=22,
         fontweight="bold", color="black")
fig.text(603.5 / W, 1 - 121 / H, TITLE_2, ha="center", va="center", fontsize=20.6,
         fontweight="bold", color="black")
fig.text(603 / W, 1 - 174 / H, DATE_RANGE, ha="center", va="center", fontsize=19.2,
         fontweight="bold", color="black", zorder=6)
fig.text(35 / W, 1 - 556 / H, "Altitude, ft", rotation=90, ha="center", va="center",
         fontsize=34, fontweight="bold", color="black", zorder=5)
fig.text(611 / W, 1 - 1020 / H, "Distance to Touchdown, ft", ha="center", va="center",
         fontsize=34.5, fontweight="bold", color="black", zorder=5)

# Legend entries: coloured text inside boxes of the same colour
legend_y = [208, 245, 282, 320]
legend_texts = []
for (label, col), yc in zip(LEGEND_ITEMS, legend_y):
    t = fig.text(607 / W, 1 - yc / H, label, ha="left", va="center", fontsize=18.5,
                 fontweight="bold", color=col, zorder=7)
    legend_texts.append((t, col, yc))

fig.canvas.draw()
renderer = fig.canvas.get_renderer()
for t, col, yc in legend_texts:
    bb = t.get_window_extent(renderer)
    x0 = bb.x0 - 4
    w = bb.width + 8
    fig.add_artist(Rectangle((x0 / W, 1 - (yc + 14) / H), w / W, 28 / H,
                             transform=fig.transFigure, facecolor="white",
                             edgecolor=col, lw=1.0, zorder=6))

fig.savefig("out.png", dpi=100, facecolor="white")
